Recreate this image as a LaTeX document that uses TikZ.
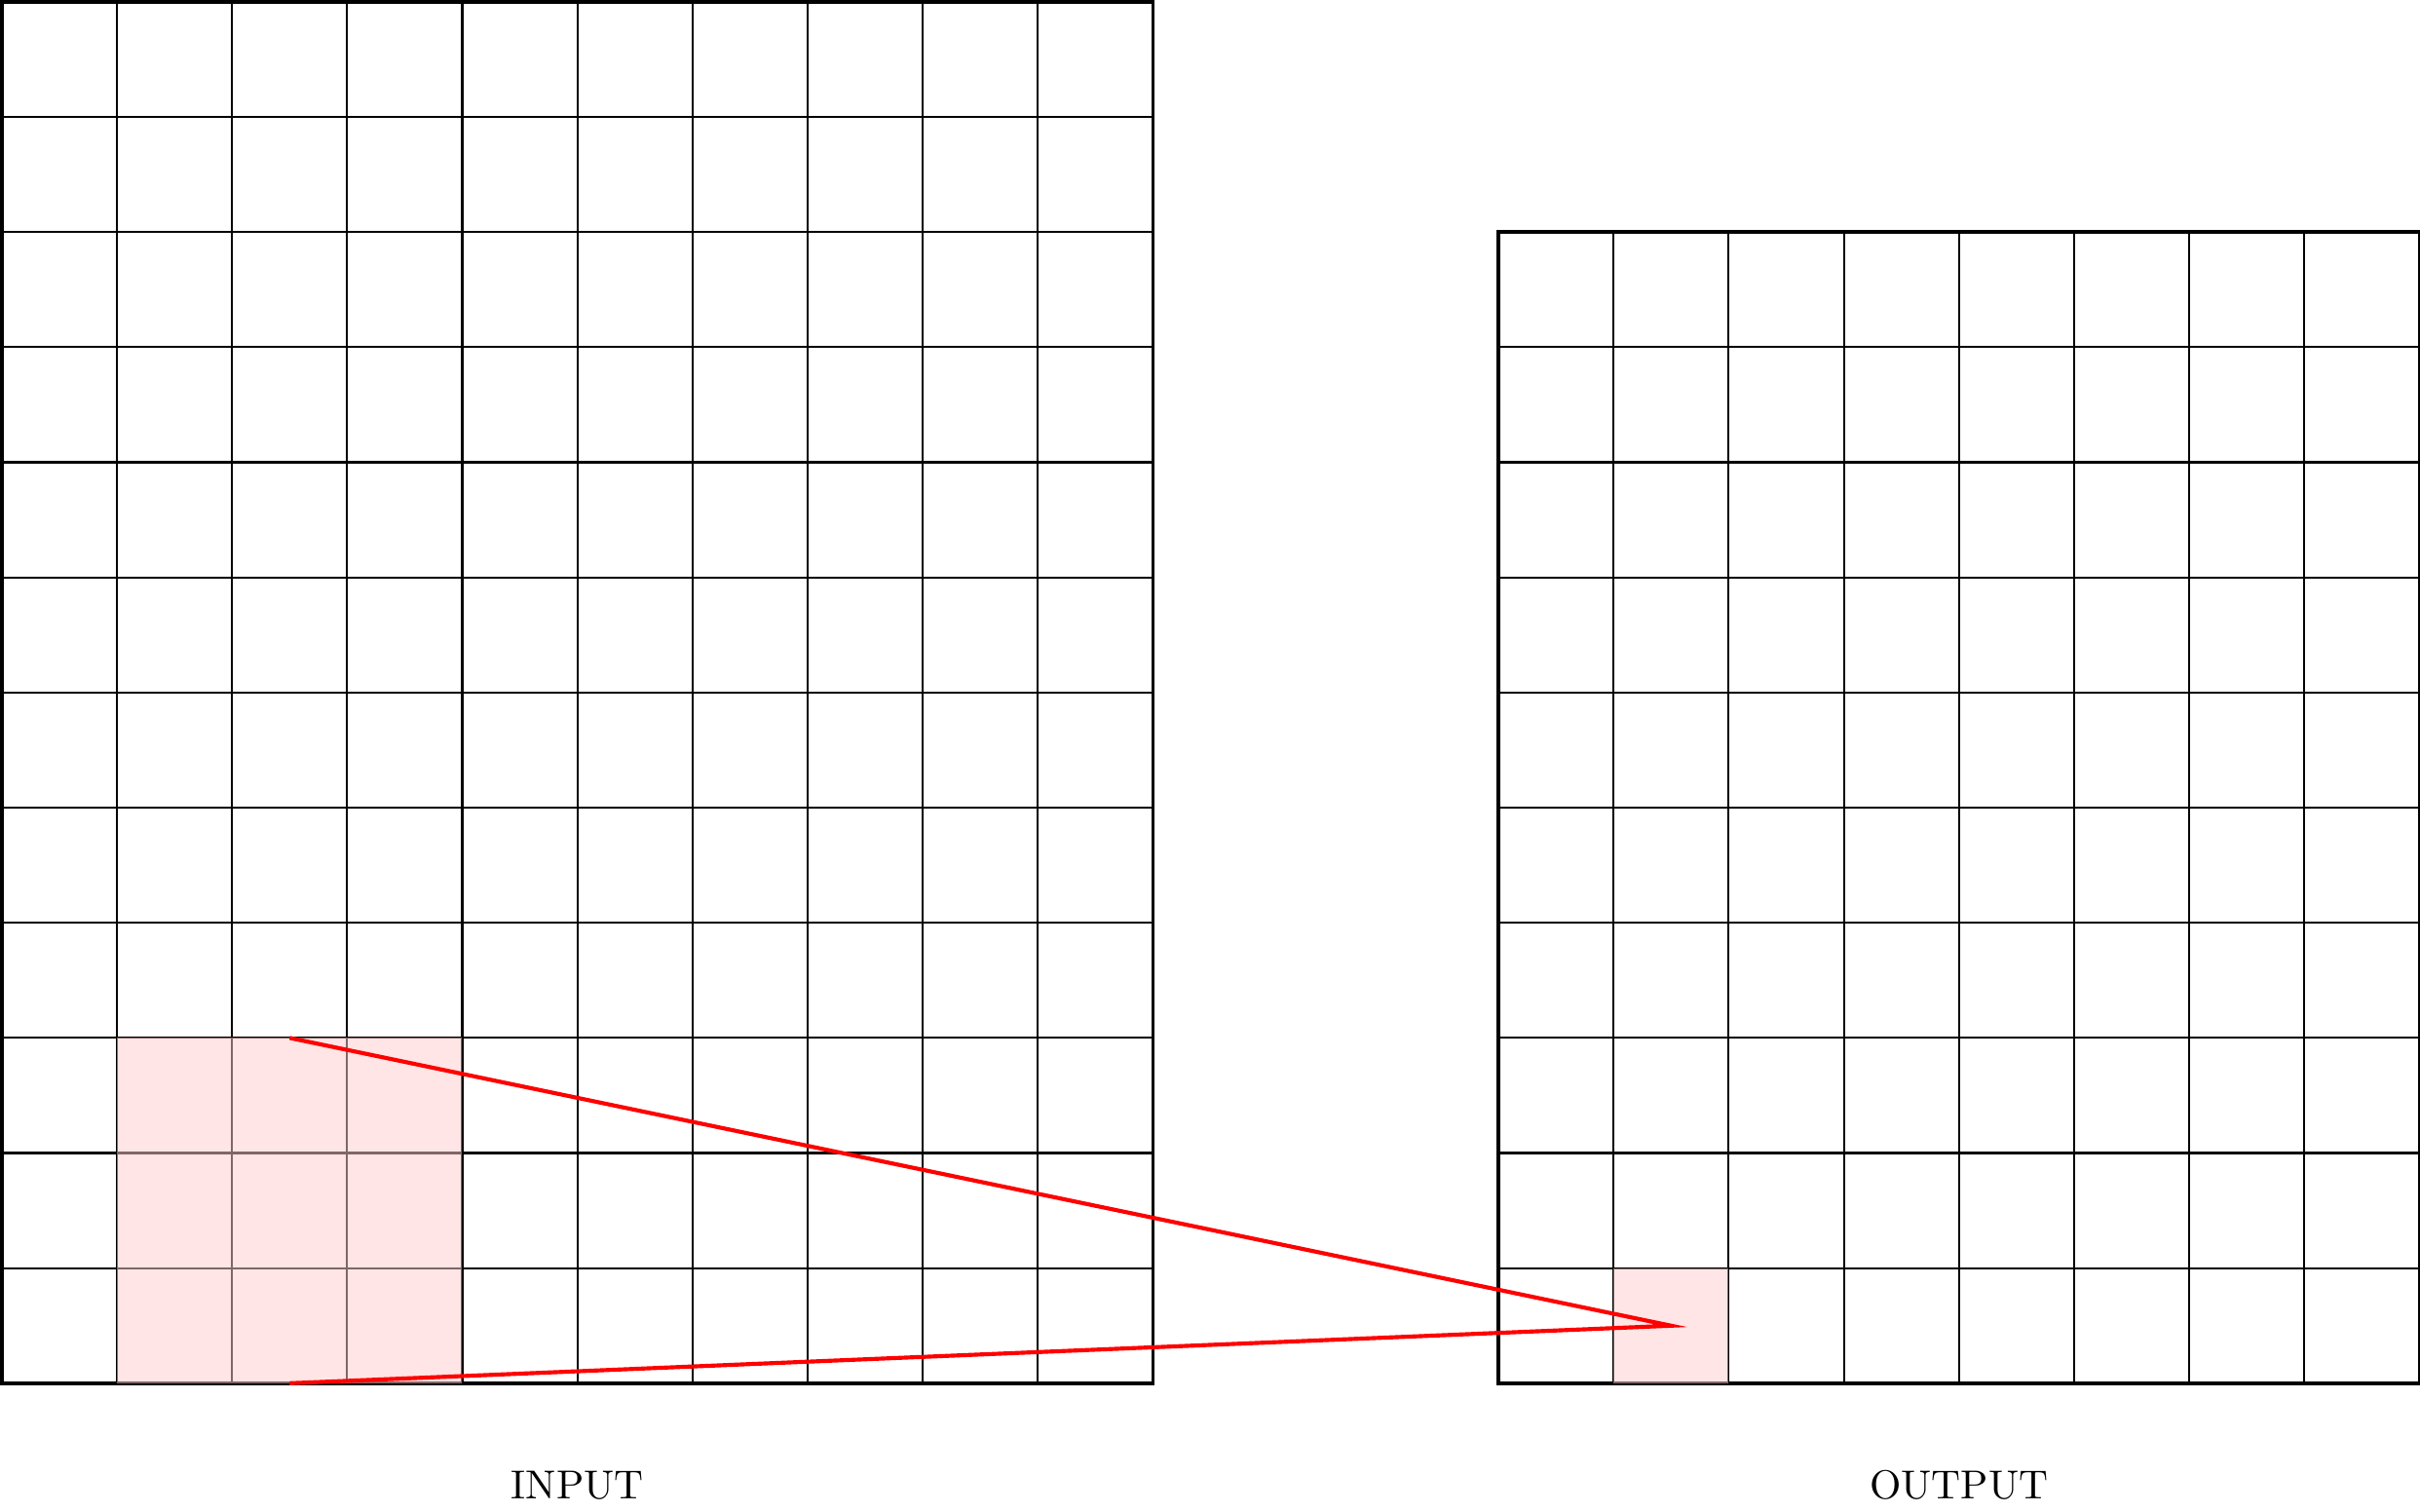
\documentclass[tikz,border=0pt]{standalone}
\usetikzlibrary{calc}
\definecolor{PatchClr}{RGB}{255,204,204}
\definecolor{LinkClr}{RGB}{255,0,0}

\begin{document}
\begin{tikzpicture}
\useasboundingbox (-0.015,-1.11) rectangle (21.005,12.015);

% input 10x12 and output 8x10
\draw[line width=0.5pt] (0,0) grid (10,12);
\draw[line width=0.9pt] (0,0) rectangle (10,12);
\draw[line width=0.5pt] (13,0) grid (21,10);
\draw[line width=0.9pt] (13,0) rectangle (21,10);

\fill[PatchClr,fill opacity=0.5] (1,0) rectangle (4,3);
\fill[PatchClr,fill opacity=0.5] (14,0) rectangle (15,1);

\coordinate (KTop) at (2.5,3);
\coordinate (KBot) at (2.5,0);
\coordinate (OCell) at (14.5,0.5);
\draw[LinkClr,line width=1pt] (KTop) -- (OCell) -- (KBot);

\node[anchor=base] (LblIn) at (5,-1) {INPUT};
\node[anchor=base] (LblOut) at (17,-1) {OUTPUT};
\end{tikzpicture}
\end{document}
